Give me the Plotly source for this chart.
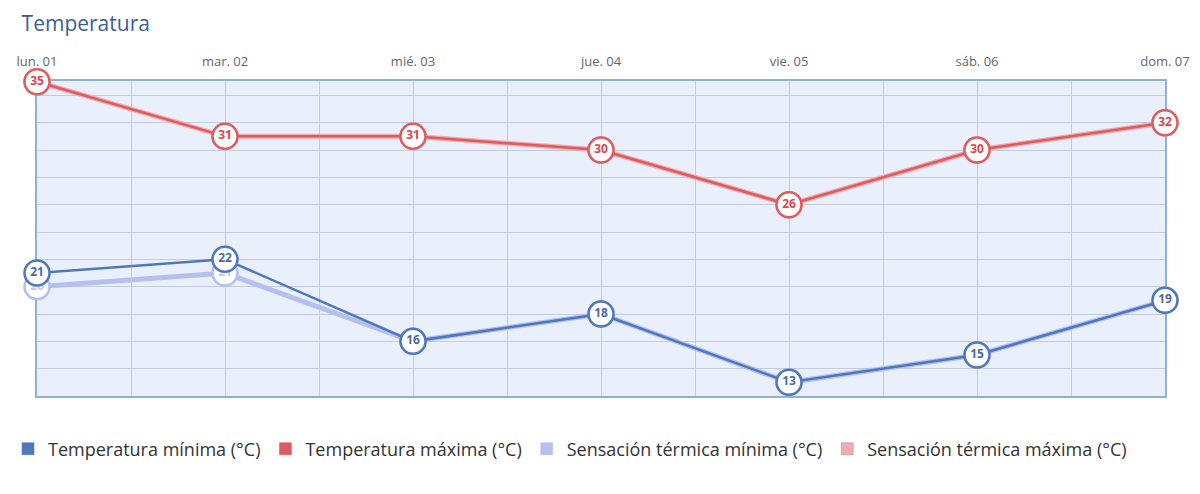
import plotly.graph_objects as go

days = ["lun. 01", "mar. 02", "mié. 03", "jue. 04", "vie. 05", "sáb. 06", "dom. 07"]
temp_min = [21, 22, 16, 18, 13, 15, 19]
temp_max = [35, 31, 31, 30, 26, 30, 32]
sens_min = [20, 21, 16, 18, 13, 15, 19]
sens_max = [35, 31, 31, 30, 26, 30, 32]

names = ["Temperatura mínima (°C)", "Temperatura máxima (°C)",
         "Sensación térmica mínima (°C)", "Sensación térmica máxima (°C)"]
colors = ["#4f77bd", "#de5b5e", "#b5bff0", "#f2aab0"]

FONT = "Open Sans"
x = list(range(len(days)))
fig = go.Figure()

def add_series(vals, color, linew, textcolor):
    fig.add_trace(go.Scatter(
        x=x, y=vals, mode="lines+markers+text",
        line=dict(color=color, width=linew),
        marker=dict(size=25, color="white", line=dict(color=color, width=2.5)),
        text=[str(v) for v in vals], textposition="middle center",
        textfont=dict(family=FONT, size=12, color=textcolor, weight="bold"),
        showlegend=False, hoverinfo="skip", cliponaxis=False))

# secondary (sensación) series drawn first, underneath
add_series(sens_min, colors[2], 5, "#c3c9ee")
add_series(sens_max, colors[3], 5, "#f0b0b5")
add_series(temp_min, colors[0], 2.5, "#4a6aa0")
add_series(temp_max, colors[1], 2.5, "#d9464c")

# legend swatches
for n, c in zip(names, colors):
    fig.add_trace(go.Bar(x=[None], y=[None], name=n, marker=dict(color=c,
                  line=dict(color="#999999" if c == colors[3] else c, width=0.5))))

fig.update_layout(
    width=1200, height=494,
    margin=dict(l=37, r=35, t=81, b=98, autoexpand=False),
    paper_bgcolor="white", plot_bgcolor="#e9f0fb",
    title=dict(text="Temperatura", x=0.018, xanchor="left", y=0.953, yanchor="middle",
               font=dict(family=FONT, size=21, color="#3a5f8f")),
    showlegend=True,
    legend=dict(orientation="h", xref="container", yref="container",
                x=8 / 1200, xanchor="left", y=1 - 449 / 494, yanchor="middle",
                font=dict(family=FONT, size=18, color="#333333"),
                itemwidth=30, traceorder="normal"),
    font=dict(family=FONT),
)
fig.update_xaxes(
    range=[0, 6], side="top", tickvals=x, ticktext=days,
    tickfont=dict(family=FONT, size=13, color="#666666"), ticks="",
    ticklabelstandoff=8, automargin=False, layer="below traces",
    showgrid=True, gridcolor="#c2ccdc", gridwidth=1,
    minor=dict(dtick=0.5, showgrid=True, gridcolor="#c2ccdc"),
    showline=True, linecolor="#8fb0d8", linewidth=2, mirror=True, zeroline=False,
    fixedrange=True,
)
fig.update_yaxes(
    range=[12, 35.05], dtick=2, tick0=0, showticklabels=False, automargin=False,
    layer="below traces",
    showgrid=True, gridcolor="#c2ccdc", gridwidth=1,
    showline=True, linecolor="#8fb0d8", linewidth=2, mirror=True, zeroline=False,
)

fig.write_html("out.html")
